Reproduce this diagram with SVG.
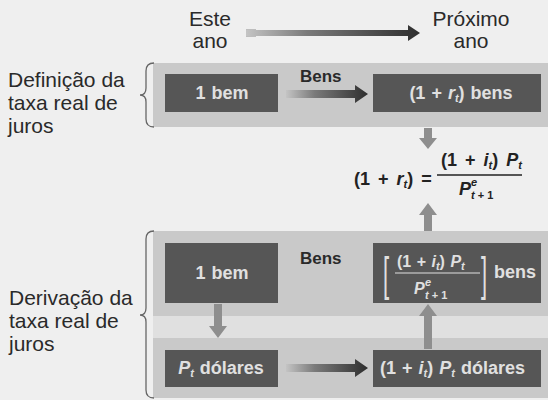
<svg xmlns="http://www.w3.org/2000/svg" width="548" height="400" viewBox="0 0 548 400">
<defs>
<linearGradient id="hg" x1="0" y1="0" x2="1" y2="0">
<stop offset="0" stop-color="#c4c4c4"/>
<stop offset="0.35" stop-color="#7a7a7a"/>
<stop offset="1" stop-color="#2e2e2e"/>
</linearGradient>
<style>
.lbl{font-family:"Liberation Sans",Arial,sans-serif;font-size:21px;fill:#2a2a2a}
.bx{fill:#565656}
.bt{font-family:"Liberation Sans",Arial,sans-serif;font-size:18px;font-weight:bold;fill:#e0e0e0;word-spacing:1px}
.bens{font-family:"Liberation Sans",Arial,sans-serif;font-size:17px;font-weight:bold;fill:#2a2a2a}
.f{font-family:"Liberation Sans",Arial,sans-serif;font-size:18px;font-weight:bold;fill:#222;word-spacing:3px}
.it{font-style:italic}
.sm{font-size:11px}
.band{fill:#c9c9c9}
.brace{fill:none;stroke:#666;stroke-width:1.3}
.harr{fill:url(#hg)}
.varr{fill:#8e8e8e}
</style>
</defs>
<rect width="548" height="400" fill="#efefef"/>

<g id="labels">
<text class="lbl" x="210" y="26" text-anchor="middle">Este</text>
<text class="lbl" x="210" y="48" text-anchor="middle">ano</text>
<text class="lbl" x="471" y="26" text-anchor="middle">Próximo</text>
<text class="lbl" x="471" y="48" text-anchor="middle">ano</text>
<text class="lbl" x="8" y="87">Definição da</text>
<text class="lbl" x="8" y="110">taxa real de</text>
<text class="lbl" x="8" y="133">juros</text>
<text class="lbl" x="9" y="305">Derivação da</text>
<text class="lbl" x="9" y="328">taxa real de</text>
<text class="lbl" x="9" y="351">juros</text>
</g>

<g id="bands">
<rect class="band" x="153" y="63" width="395" height="64"/>
<rect class="band" x="153" y="231" width="395" height="85"/>
<rect x="153" y="316" width="395" height="22" fill="#e0e0e0"/>
<rect class="band" x="153" y="338" width="395" height="60"/>
<path class="brace" d="M154,63 Q146,63 146,71 L146,88 Q146,95 140,95 Q146,95 146,102 L146,119 Q146,127 154,127"/>
<path class="brace" d="M154,231 Q146,231 146,239 L146,308 Q146,315 140,315 Q146,315 146,322 L146,390 Q146,398 154,398"/>
</g>

<g id="connectors">
<rect x="246" y="29" width="10" height="8" fill="#bdbdbd"/>
<polygon class="harr" points="246,30 408,30 408,25 420,33 408,41 408,36 246,36"/>
<polygon class="harr" points="286,90 355,90 355,85 368,94 355,103 355,98 286,98"/>
<polygon class="harr" points="286,364 355,364 355,359 368,368 355,377 355,372 286,372"/>
<polygon class="varr" points="424,128 432,128 432,138 437,138 428,149 419,138 424,138"/>
<polygon class="varr" points="424,231 432,231 432,215 437,215 428,203 419,215 424,215"/>
<polygon class="varr" points="214,304 222,304 222,326 227,326 218,338 209,326 214,326"/>
<polygon class="varr" points="424,349 432,349 432,316 437,316 428,304 419,316 424,316"/>
</g>

<g id="bens-top"><text class="bens" x="300" y="82">Bens</text></g>
<g id="bens-bottom"><text class="bens" x="300" y="264">Bens</text></g>

<g id="node-1bem-top">
<rect class="bx" x="165" y="74" width="113" height="38"/>
<text class="bt" x="222" y="99" text-anchor="middle">1 bem</text>
</g>

<g id="node-rbens">
<rect class="bx" x="373" y="74" width="168" height="38"/>
<text class="bt" x="461" y="99" text-anchor="middle">(1 + <tspan class="it">r</tspan><tspan class="it sm" dy="3">t</tspan><tspan dy="-3">) bens</tspan></text>
</g>

<g id="formula">
<text class="f" x="354" y="185">(1 + <tspan class="it">r</tspan><tspan class="it sm" dy="3">t</tspan><tspan dy="-3">) =</tspan></text>
<text class="f" x="441" y="166">(1 + <tspan class="it">i</tspan><tspan class="it sm" dy="3">t</tspan><tspan dy="-3">) </tspan><tspan class="it">P</tspan><tspan class="it sm" dy="3">t</tspan></text>
<line x1="437" y1="175" x2="522" y2="175" stroke="#222" stroke-width="1.4"/>
<text class="f it" x="459" y="195">P</text>
<text class="f it sm" x="471" y="186">e</text>
<text class="f sm" x="471" y="199" style="word-spacing:0"><tspan class="it">t</tspan> + 1</text>
</g>

<g id="node-1bem-bottom">
<rect class="bx" x="165" y="243" width="113" height="60"/>
<text class="bt" x="222" y="279" text-anchor="middle">1 bem</text>
</g>

<g id="node-fraction-bens">
<rect class="bx" x="373" y="243" width="168" height="60"/>
<text class="bt" x="383" y="290" style="font-size:40px;font-weight:normal" transform="translate(383,290) scale(0.55,1.15) translate(-383,-290)">[</text>
<text class="bt" x="397" y="267" style="font-size:16px">(1 + <tspan class="it">i</tspan><tspan class="it sm" dy="3">t</tspan><tspan dy="-3">) </tspan><tspan class="it">P</tspan><tspan class="it sm" dy="3">t</tspan></text>
<line x1="395" y1="273" x2="480" y2="273" stroke="#e0e0e0" stroke-width="1.2"/>
<text class="bt it" x="414" y="294" style="font-size:16px">P</text>
<text class="bt it sm" x="425" y="286">e</text>
<text class="bt sm" x="425" y="299" style="word-spacing:0"><tspan class="it">t</tspan> + 1</text>
<text class="bt" x="481" y="290" style="font-size:40px;font-weight:normal" transform="translate(481,290) scale(0.55,1.15) translate(-481,-290)">]</text>
<text class="bt" x="494" y="278">bens</text>
</g>

<g id="node-pdolares">
<rect class="bx" x="165" y="350" width="113" height="37"/>
<text class="bt" x="221" y="374" text-anchor="middle"><tspan class="it">P</tspan><tspan class="it sm" dy="3">t</tspan><tspan dy="-3"> dólares</tspan></text>
</g>

<g id="node-idolares">
<rect class="bx" x="373" y="350" width="168" height="37"/>
<text class="bt" x="380" y="374">(1 + <tspan class="it">i</tspan><tspan class="it sm" dy="3">t</tspan><tspan dy="-3">)  </tspan><tspan class="it">P</tspan><tspan class="it sm" dy="3">t</tspan><tspan dy="-3"> dólares</tspan></text>
</g>
</svg>
